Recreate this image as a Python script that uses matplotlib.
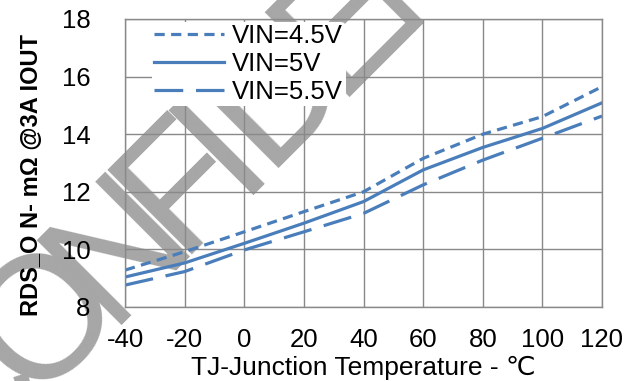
import math
import matplotlib
matplotlib.use("Agg")
import matplotlib.pyplot as plt

temps = [-40, -20, 0, 20, 40, 60, 80, 100, 120]
vin_45 = [9.28, 9.92, 10.61, 11.31, 12.0, 13.16, 14.0, 14.61, 15.65]
vin_50 = [9.04, 9.53, 10.21, 10.91, 11.66, 12.76, 13.54, 14.2, 15.09]
vin_55 = [8.76, 9.23, 9.98, 10.61, 11.25, 12.24, 13.1, 13.86, 14.63]
labels = ["VIN=4.5V", "VIN=5V", "VIN=5.5V"]
xticks = [-40, -20, 0, 20, 40, 60, 80, 100, 120]
yticks = [8, 10, 12, 14, 16, 18]

plt.rcParams['font.family'] = ['Liberation Sans', 'DejaVu Sans']
plt.rcParams['axes.unicode_minus'] = False

W, H = 641, 381
fig = plt.figure(figsize=(W / 100, H / 100), dpi=100)
fig.patch.set_facecolor('white')

# watermark "CONFIDENTIAL", letters set along a 45 degree baseline (narrow spacing)
wm_text = "CONFIDENTIAL"
wm_adv = {'C': .722, 'O': .778, 'N': .722, 'F': .611, 'I': .278, 'D': .722,
          'E': .667, 'T': .611, 'A': .667, 'L': .556}
k = 138.0                      # px per advance unit
ux, uy = math.cos(math.radians(45)), math.sin(math.radians(45))
ox, oy = 108.0, H - 325.0      # origin of the 'N' (pixels, y up)
pos = -(wm_adv['C'] + wm_adv['O']) * k
for ch in wm_text:
    fig.text((ox + pos * ux) / W, (oy + pos * uy) / H, ch, rotation=45,
             rotation_mode='anchor', ha='left', va='baseline', fontsize=125,
             color='#A6A6A6', zorder=-1)
    pos += wm_adv[ch] * k

ax = fig.add_axes([125 / W, 1 - 307 / H, (602 - 125) / W, (307 - 19) / H])
ax.set_facecolor('none')

blue = '#4A7EBB'
lw = 2.3
ax.plot(temps, vin_45, color=blue, lw=lw, dashes=(3.2, 2.0), label=labels[0])
ax.plot(temps, vin_50, color=blue, lw=lw, label=labels[1])
ax.plot(temps, vin_55, color=blue, lw=lw, dashes=(9.0, 4.0), label=labels[2])

ax.set_xlim(-40, 120)
ax.set_ylim(8, 18)
ax.set_xticks(xticks)
ax.set_yticks(yticks)
ax.grid(True, color='#898989', lw=1.0)
ax.set_axisbelow(True)
for s in ax.spines.values():
    s.set_color('#898989')
    s.set_linewidth(1.0)
ax.tick_params(axis='both', length=0, labelsize=18.5, colors='black')
ax.tick_params(axis='y', pad=25)
ax.tick_params(axis='x', pad=15)

ax.set_xlabel("TJ-Junction Temperature - ℃", fontsize=19, labelpad=3)
ax.set_ylabel("RDS_O N- mΩ @3A IOUT", fontsize=17, fontweight='bold')
ax.yaxis.set_label_coords(-0.172, 0.46)

leg = ax.legend(loc='upper left', bbox_to_anchor=(0.051, 1.0), fontsize=18.5, frameon=True,
                handlelength=2.72, handletextpad=0.3, labelspacing=0.15,
                borderpad=0.1, borderaxespad=0.1)
leg.get_frame().set_facecolor('white')
leg.get_frame().set_edgecolor('none')
leg.get_frame().set_alpha(1.0)

fig.savefig("out.png", dpi=100)
